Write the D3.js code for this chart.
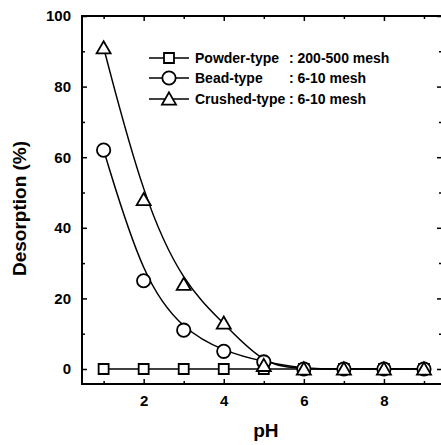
<!DOCTYPE html>
<html>
<head>
<meta charset="utf-8">
<script src="https://cdn.jsdelivr.net/npm/d3@7"></script>
<style>
  body { margin: 0; background: #fff; }
  text { font-family: "Liberation Sans", Arial, sans-serif; font-weight: bold; fill: #000; }
</style>
</head>
<body>
<div id="chart"></div>
<script>
// data
var pH = [1, 2, 3, 4, 5, 6, 7, 8, 9];
var powder = [0, 0, 0, 0, 0, 0, 0, 0, 0];
var bead = [62, 25, 11, 5, 2, 0, 0, 0, 0];
var crushed = [91, 48, 24, 13, 1, 0, 0, 0, 0];
var seriesNames = ["Powder-type", "Bead-type", "Crushed-type"];
var seriesMesh = [": 200-500 mesh", ": 6-10 mesh", ": 6-10 mesh"];
var seriesSymbols = ["square", "circle", "triangle"];
var xMajor = [2, 4, 6, 8];
var xMinor = [1, 3, 5, 7, 9];
var yMajor = [0, 20, 40, 60, 80, 100];
var yMinor = [10, 30, 50, 70, 90];

var W = 441, H = 445;
var margin = {left: 82, right: 442, top: 16, bottom: 384};

var svg = d3.select("#chart")
  .append("svg")
    .attr("width", W)
    .attr("height", H);

var x = d3.scaleLinear()
  .domain([0.46, 9.45])
  .range([margin.left, margin.right]);

var y = d3.scaleLinear()
  .domain([-4.25, 100])
  .range([margin.bottom, margin.top]);

// axes: ticks inward on all four sides
function addAxis(gen, tx, ty, vals, size, labels) {
  var g = svg.append("g")
    .attr("transform", "translate(" + tx + "," + ty + ")")
    .call(gen.tickValues(vals).tickSizeInner(-size).tickSizeOuter(0).tickPadding(size + 6)
      .tickFormat(labels ? d3.format("d") : function() { return ""; }));
  g.select(".domain").remove();
  g.selectAll("line").attr("stroke", "#000").attr("stroke-width", 1.5);
  g.selectAll("text").style("font-size", "15px");
  if (!labels) g.selectAll("text").remove();
  return g;
}
addAxis(d3.axisLeft(y), margin.left, 0, yMajor, 5, true);
addAxis(d3.axisLeft(y), margin.left, 0, yMinor, 3, false);
addAxis(d3.axisRight(y), margin.right, 0, yMajor, 5, false);
addAxis(d3.axisRight(y), margin.right, 0, yMinor, 3, false);
addAxis(d3.axisBottom(x), 0, margin.bottom, xMajor, 5, true);
addAxis(d3.axisBottom(x), 0, margin.bottom, xMinor, 3, false);
addAxis(d3.axisTop(x), 0, margin.top, xMajor, 5, false);
addAxis(d3.axisTop(x), 0, margin.top, xMinor, 3, false);

svg.append("rect")
  .attr("x", margin.left).attr("y", margin.top)
  .attr("width", margin.right - margin.left).attr("height", margin.bottom - margin.top)
  .attr("fill", "none").attr("stroke", "#000").attr("stroke-width", 2);

// axis titles
svg.append("text")
  .attr("x", (x(1) + x(9)) / 2 + 2)
  .attr("y", 437)
  .attr("text-anchor", "middle")
  .style("font-size", "19px")
  .text("pH");

svg.append("text")
  .attr("transform", "translate(26," + (y(50) + 16) + ") rotate(-90)")
  .attr("text-anchor", "middle")
  .style("font-size", "19px")
  .text("Desorption (%)");

// lines
var straight = d3.line()
  .x(function(d, i) { return x(pH[i]); })
  .y(function(d) { return y(d); });
var smooth = d3.line()
  .curve(d3.curveBasis)
  .x(function(d, i) { return x(pH[i]); })
  .y(function(d) { return y(d); });

svg.append("path").datum(powder).attr("d", straight)
  .attr("fill", "none").attr("stroke", "#000").attr("stroke-width", 1.5);
svg.append("path").datum(bead).attr("d", smooth)
  .attr("fill", "none").attr("stroke", "#000").attr("stroke-width", 1.5);
svg.append("path").datum(crushed).attr("d", smooth)
  .attr("fill", "none").attr("stroke", "#000").attr("stroke-width", 1.5);

// markers
var symbolGen = {
  square: d3.symbol().type(d3.symbolSquare).size(100),
  circle: d3.symbol().type(d3.symbolCircle).size(140),
  triangle: d3.symbol().type(d3.symbolTriangle).size(85)
};

function addMarkers(vals, kind) {
  svg.append("g").selectAll("path")
    .data(vals)
    .enter()
    .append("path")
      .attr("transform", function(d, i) {
        var dy = kind == "triangle" ? 1.5 : 0;
        return "translate(" + x(pH[i]) + "," + (y(d) + dy) + ")";
      })
      .attr("d", symbolGen[kind])
      .attr("fill", "#fff")
      .attr("stroke", "#000")
      .attr("stroke-width", 1.8);
}
addMarkers(powder, "square");
addMarkers(bead, "circle");
addMarkers(crushed, "triangle");

// legend
var legend = svg.append("g");
var rowY = [58, 78, 99];
seriesNames.forEach(function(name, i) {
  var g = legend.append("g").attr("transform", "translate(0," + rowY[i] + ")");
  g.append("line")
    .attr("x1", 149).attr("x2", 189).attr("y1", 0).attr("y2", 0)
    .attr("stroke", "#000").attr("stroke-width", 1.5);
  g.append("path")
    .attr("transform", "translate(169," + (seriesSymbols[i] == "triangle" ? 1.5 : 0) + ")")
    .attr("d", symbolGen[seriesSymbols[i]])
    .attr("fill", "#fff").attr("stroke", "#000").attr("stroke-width", 1.8);
  g.append("text")
    .attr("x", 195).attr("y", 5)
    .style("font-size", "14px")
    .text(name);
  g.append("text")
    .attr("x", 289).attr("y", 5)
    .style("font-size", "14px")
    .text(seriesMesh[i]);
});
</script>
</body>
</html>
